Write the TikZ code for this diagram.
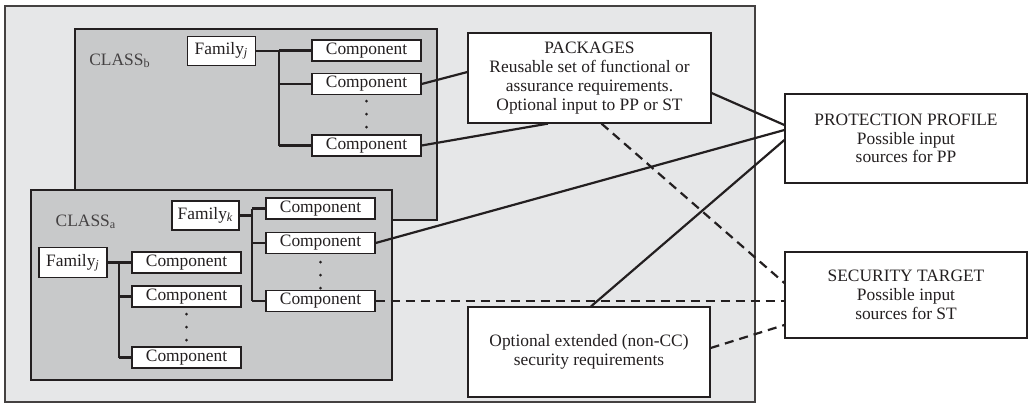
\documentclass[tikz,border=0pt]{standalone}
\usepackage{fontspec}
\setmainfont{Liberation Serif}
\definecolor{outerfill}{HTML}{E6E7E8}
\definecolor{classfill}{HTML}{C8C9CA}
\definecolor{ink}{HTML}{231F20}
\begin{document}
\begin{tikzpicture}[x=0.5pt,y=-0.5pt,
  font=\fontsize{8.7}{9.4}\selectfont,
  wbox/.style={draw=ink, line width=0.6pt, fill=white, inner sep=0pt, align=center, text=ink},
  comp/.style={wbox, minimum width=54.5pt, minimum height=10.5pt},
  fam/.style={wbox, minimum width=34pt, minimum height=14.75pt},
  bigbox/.style={wbox, minimum width=121pt, minimum height=44.5pt},
  outerbox/.style={draw=ink!85, line width=0.9pt, fill=outerfill, inner sep=0pt},
  classbox/.style={draw=ink, line width=1.4pt, fill=classfill, inner sep=0pt},
  classlabel/.style={inner sep=0pt, text=ink!85},
  tree/.style={draw=ink, line width=1.4pt},
  conn/.style={draw=ink, line width=1.1pt},
  dconn/.style={conn, dash pattern=on 4.5pt off 3pt},
  dotmark/.style={circle, fill=ink, inner sep=0pt, minimum size=1.5pt}
]
\useasboundingbox (0,0) rectangle (1029,404);

% outer container
\node[outerbox, minimum width=375pt, minimum height=198pt] (outer) at (380,204) {};

% CLASS b
\node[classbox, minimum width=181pt, minimum height=95.5pt] (classb) at (256,124.5) {};
\node[classlabel] (lblb) at (120,61) {CLASS\textsubscript{b}};
\node[fam] (fb) at (221.5,51) {Family\textsubscript{\itshape j}};
\node[comp] (b1) at (366.5,50.5) {Component};
\node[comp] (b2) at (366.5,84) {Component};
\node[comp] (b3) at (366.5,145.5) {Component};
\node[dotmark] (bd1) at (366.5,101) {};
\node[dotmark] (bd2) at (366.5,114) {};
\node[dotmark] (bd3) at (366.5,127) {};
\coordinate (tb) at (279,0);
\draw[tree] (fb.east) -- (fb.east -| tb);
\draw[tree] (b1.west -| tb) -- (b3.west -| tb);
\foreach \c in {b1,b2,b3} \draw[tree] (\c.west -| tb) -- (\c.west);

% CLASS a
\node[classbox, minimum width=180.5pt, minimum height=95pt] (classa) at (211.5,285) {};
\node[classlabel] (lbla) at (86,222) {CLASS\textsubscript{a}};
\node[fam, minimum width=33.5pt, minimum height=14.5pt] (fk) at (205.5,215.5) {Family\textsubscript{\itshape k}};
\node[comp] (k1) at (320.5,208.5) {Component};
\node[comp] (k2) at (320.5,243) {Component};
\node[comp] (k3) at (320.5,301) {Component};
\node[dotmark] (kd1) at (320.5,262) {};
\node[dotmark] (kd2) at (320.5,275) {};
\node[dotmark] (kd3) at (320.5,288) {};
\coordinate (tk) at (252,0);
\draw[tree] (fk.east) -- (fk.east -| tk);
\draw[tree] (k1.west -| tk) -- (k3.west -| tk);
\foreach \c in {k1,k2,k3} \draw[tree] (\c.west -| tk) -- (\c.west);

\node[fam] (fj) at (73,262.5) {Family\textsubscript{\itshape j}};
\node[comp] (j1) at (186.5,262.5) {Component};
\node[comp] (j2) at (186.5,296.5) {Component};
\node[comp] (j3) at (186.5,357.5) {Component};
\node[dotmark] (jd1) at (186.5,314) {};
\node[dotmark] (jd2) at (186.5,327) {};
\node[dotmark] (jd3) at (186.5,340) {};
\coordinate (tj) at (119,0);
\draw[tree] (fj.east) -- (fj.east -| tj);
\draw[tree] (j1.west -| tj) -- (j3.west -| tj);
\foreach \c in {j1,j2,j3} \draw[tree] (\c.west -| tj) -- (\c.west);

% right-hand boxes
\node[bigbox, minimum width=121.5pt, minimum height=45pt] (pkg) at (589.5,78)
  {PACKAGES\\Reusable set of functional or\\assurance requirements.\\Optional input to PP or ST};
\node[bigbox, minimum height=45pt] (opt) at (589,352)
  {Optional extended (non-CC)\\security requirements};
\node[bigbox] (pp) at (906,138.5)
  {PROTECTION PROFILE\\Possible input\\sources for PP};
\node[bigbox, minimum height=43pt] (st) at (906,295)
  {SECURITY TARGET\\Possible input\\sources for ST};

% connectors
\draw[conn] (b2.east) -- ([yshift=3pt]pkg.west);
\draw[conn] (b3.east) -- ([xshift=-20.75pt]pkg.south);
\draw[conn] ([yshift=-7.5pt]pkg.east) -- ([yshift=6.75pt]pp.west);
\draw[conn] (k2.east) -- ([yshift=4.25pt]pp.west);
\draw[conn] ([xshift=1pt]opt.north) -- ([yshift=-0.75pt]pp.west);
\draw[dconn] (k3.east) -- (k3.east -| st.west);
\draw[dconn] ([xshift=6pt]pkg.south) -- ([yshift=6pt]st.west);
\draw[dconn] ([yshift=2pt]opt.east) -- ([yshift=-15pt]st.west);
\end{tikzpicture}
\end{document}
